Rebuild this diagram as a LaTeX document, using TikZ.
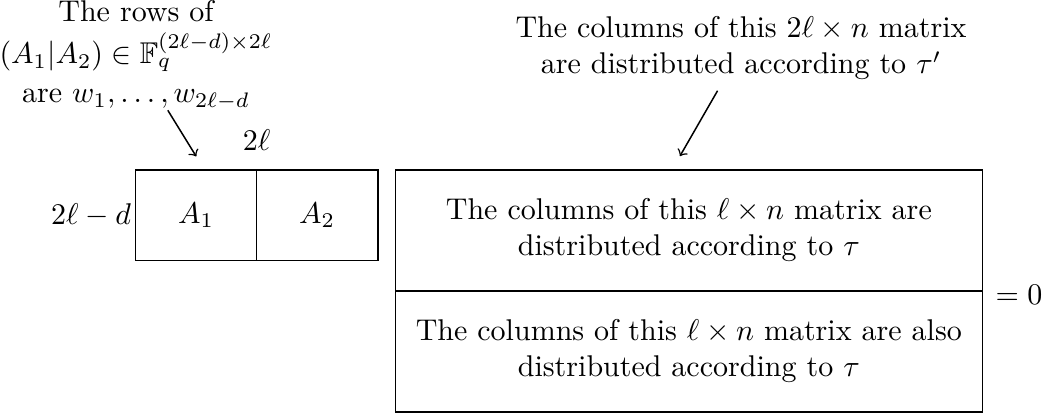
\documentclass[tikz,border=0pt]{standalone}
\usepackage{amsmath, amssymb}
\usepackage{tikz}
\usetikzlibrary{calc, positioning, arrows}
\newcommand\matcell[5]{\node[draw, line width=0.5pt, minimum width=#3cm, minimum height=#4cm, inner sep=0pt, align=center] (#1) at (#2) {#5};}

\begin{document}
\begin{tikzpicture}
\useasboundingbox (0,0) rectangle (12.266,4.885);
% the matrix (A_1|A_2)
\matcell{A1}{2.296,2.362}{1.42}{1.063}{$A_1$}
\matcell{A2}{3.716,2.362}{1.42}{1.063}{$A_2$}
\node[left, inner sep=1pt] (rowsize) at (A1.west) {$2\ell-d$};
\node[anchor=base] (colsize) at (3.006,3.12) {$2\ell$};

% the 2l x n matrix
\matcell{colsup}{8.07,2.185}{6.877}{1.418}{The columns of this $\ell\times n$ matrix are\\ distributed according to $\tau$}
\matcell{colsdown}{8.07,0.768}{6.877}{1.418}{The columns of this $\ell\times n$ matrix are also\\ distributed according to $\tau$}
\node[right, inner sep=4pt, yshift=-1pt] (zero) at (colsup.south east) {$=0$};

% notes
\node[anchor=north, align=center, inner sep=0pt] (rowsnote) at (1.593,4.885) {The rows of\\[2pt] $(A_1|A_2)\in\mathbb{F}_q^{(2\ell-d)\times 2\ell}$\\[1pt] are $w_1,\ldots,w_{2\ell-d}$};
\node[align=center] (colsnote) at (8.681,4.317) {The columns of this $2\ell\times n$ matrix\\ are distributed according to $\tau'$};
\draw[->, line width=0.5pt, shorten >=5pt] (rowsnote.300) -- (A1.80);
\draw[->, line width=0.5pt, shorten >=5pt] (colsnote.241) -- (colsup.105);

\end{tikzpicture}
\end{document}
